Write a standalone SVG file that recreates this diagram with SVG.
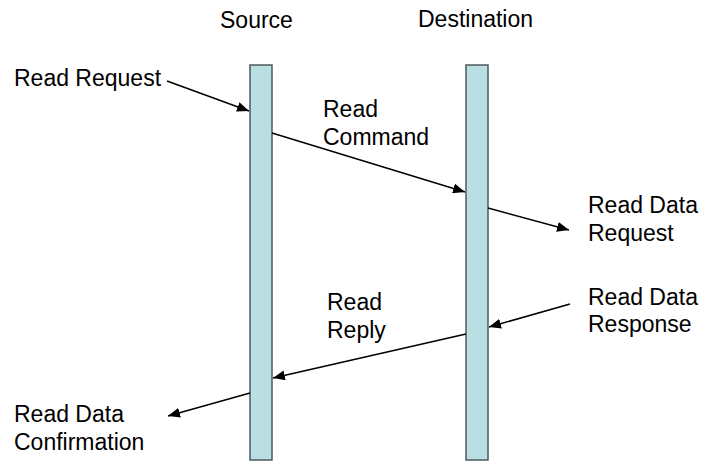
<svg xmlns="http://www.w3.org/2000/svg" width="703" height="461" viewBox="0 0 703 461">
<style>
  text { font-family: "Liberation Sans", Arial, sans-serif; font-size: 23px; fill: #000; }
  .bar { fill: #b9dfe3; stroke: #4d5a5c; stroke-width: 1.5; }
  .conn { stroke: #000; stroke-width: 1.5; fill: none; marker-end: url(#arrow); }
</style>
<defs>
  <marker id="arrow" markerUnits="userSpaceOnUse" markerWidth="14" markerHeight="10" refX="12" refY="5" orient="auto">
    <path d="M0,0 L12,5 L0,10 Z" fill="#000"/>
  </marker>
</defs>
<rect width="703" height="461" fill="#fff"/>
<g id="source">
  <rect class="bar" x="250" y="65" width="22" height="395"/>
  <text x="220" y="28">Source</text>
</g>
<g id="destination">
  <rect class="bar" x="466" y="65" width="22" height="395"/>
  <text x="418" y="27">Destination</text>
</g>
<g id="labels">
  <text x="14" y="86">Read Request</text>
  <text x="323" y="117">Read</text>
  <text x="323" y="145">Command</text>
  <text x="588" y="213">Read Data</text>
  <text x="588" y="241">Request</text>
  <text x="327" y="310">Read</text>
  <text x="327" y="338">Reply</text>
  <text x="588" y="305">Read Data</text>
  <text x="588" y="332">Response</text>
  <text x="14" y="422">Read Data</text>
  <text x="14" y="450">Confirmation</text>
</g>
<g id="connectors">
  <line class="conn" x1="167" y1="81" x2="249" y2="111"/>
  <line class="conn" x1="272" y1="133" x2="465" y2="192"/>
  <line class="conn" x1="488" y1="208" x2="569" y2="230"/>
  <line class="conn" x1="570" y1="304" x2="489" y2="327"/>
  <line class="conn" x1="466" y1="334" x2="273" y2="378"/>
  <line class="conn" x1="250" y1="393" x2="168" y2="416"/>
</g>
</svg>
